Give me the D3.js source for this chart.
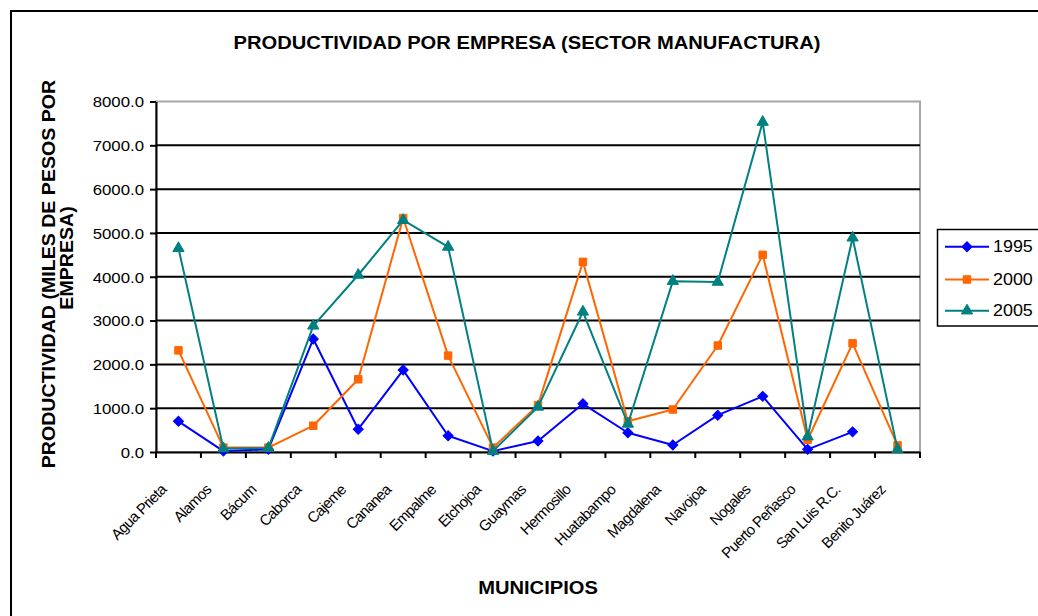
<!DOCTYPE html>
<html>
<head>
<meta charset="utf-8">
<script src="https://cdn.jsdelivr.net/npm/d3@7"></script>
<style>
  html, body { margin: 0; padding: 0; background: #fff; }
  svg { display: block; font-family: "Liberation Sans", Arial, sans-serif; }
</style>
</head>
<body>
<svg id="chart" width="1038" height="616"></svg>
<script>
const chartTitle = "PRODUCTIVIDAD POR EMPRESA (SECTOR MANUFACTURA)";
const xTitle = "MUNICIPIOS";
const yTitleLines = ["PRODUCTIVIDAD (MILES DE PESOS POR", "EMPRESA)"];

const categories = ["Agua Prieta", "Alamos", "Bácum", "Caborca", "Cajeme", "Cananea",
  "Empalme", "Etchojoa", "Guaymas", "Hermosillo", "Huatabampo", "Magdalena",
  "Navojoa", "Nogales", "Puerto Peñasco", "San Luis R.C.", "Benito Juárez"];

const seriesNames = ["1995", "2000", "2005"];
const values1995 = [700, 20, 60, 2580, 520, 1870, 370, 20, 250, 1100, 440, 160, 840, 1270, 60, 460, null];
const values2000 = [2320, 100, 100, 600, 1660, 5340, 2200, 100, 1070, 4340, 700, 970, 2430, 4500, 280, 2480, 150];
const values2005 = [4650, 80, 90, 2880, 4040, 5290, 4680, 20, 1030, 3200, 640, 3900, 3880, 7530, 350, 4890, 60];

const yTicks = [0, 1000, 2000, 3000, 4000, 5000, 6000, 7000, 8000];

const seriesColors = ["#0000FF", "#FF6600", "#008080"];
const seriesSymbols = [d3.symbolSquare, d3.symbolSquare, d3.symbolTriangle];
const seriesSymbolRotate = [45, 0, 0];
const seriesSymbolSizes = [50, 56, 55];

const series = [values1995, values2000, values2005].map((vals, i) => ({
  name: seriesNames[i], values: vals, color: seriesColors[i],
  symbol: seriesSymbols[i], size: seriesSymbolSizes[i], rot: seriesSymbolRotate[i]
}));

const svg = d3.select("#chart");
const FS = 1.12; // horizontal stretch of rendered fonts

// outer chart border
svg.append("rect").attr("x", 11).attr("y", 11).attr("width", 1040).attr("height", 620)
  .attr("fill", "none").attr("stroke", "#000").attr("stroke-width", 2);

const plot = { left: 156, right: 920, top: 101.5, bottom: 452 };

const x = d3.scaleBand().domain(categories).range([plot.left, plot.right]).padding(0);
const y = d3.scaleLinear().domain([0, 8000]).range([plot.bottom, plot.top]);

// plot area border (gray)
svg.append("rect").attr("x", plot.left).attr("y", plot.top)
  .attr("width", plot.right - plot.left).attr("height", plot.bottom - plot.top)
  .attr("fill", "none").attr("stroke", "#a6a6a6").attr("stroke-width", 2);

// gridlines
svg.append("g").selectAll("line").data(yTicks.filter(d => d > 0 && d < 8000)).join("line")
  .attr("x1", plot.left).attr("x2", plot.right)
  .attr("y1", d => y(d)).attr("y2", d => y(d))
  .attr("stroke", "#000").attr("stroke-width", 2);

// y axis
const yAxis = svg.append("g").attr("transform", `translate(${plot.left},0)`)
  .call(d3.axisLeft(y).tickValues(yTicks).tickFormat(d => d.toFixed(1)).tickSize(6).tickSizeOuter(0));
yAxis.select(".domain").attr("stroke", "#000").attr("stroke-width", 2);
yAxis.selectAll(".tick line").attr("stroke", "#000").attr("stroke-width", 2);
yAxis.selectAll(".tick text")
  .attr("x", -12 / FS).attr("dy", "0.36em")
  .attr("transform", `scale(${FS},1)`)
  .attr("font-size", 15).attr("fill", "#000")
  .attr("font-family", "'Liberation Sans', Arial, sans-serif");

// x axis
const xAxis = svg.append("g").attr("transform", `translate(0,${plot.bottom})`)
  .call(d3.axisBottom(x).tickSize(0).tickFormat(""));
xAxis.select(".domain").attr("stroke", "#000").attr("stroke-width", 2);
const boundaries = categories.map(c => x(c)).concat([x(categories[categories.length - 1]) + x.bandwidth()]);
xAxis.append("g").selectAll("line").data(boundaries).join("line")
  .attr("x1", d => d).attr("x2", d => d).attr("y1", 0).attr("y2", 6)
  .attr("stroke", "#000").attr("stroke-width", 2);

// x labels
svg.append("g").selectAll("text").data(categories).join("text")
  .attr("transform", d => `translate(${x(d) + x.bandwidth() / 2 - 15},${plot.bottom + 35}) rotate(-45)`)
  .attr("text-anchor", "end")
  .attr("dy", "0.35em")
  .attr("font-size", 15)
  .attr("letter-spacing", "-0.7px")
  .attr("fill", "#000")
  .text(d => d);

// lines & markers
const line = d3.line()
  .defined(d => d.v !== null)
  .x(d => x(d.c) + x.bandwidth() / 2)
  .y(d => y(d.v));

series.forEach(s => {
  const pts = categories.map((c, i) => ({ c, v: s.values[i] }));
  svg.append("path").datum(pts)
    .attr("fill", "none").attr("stroke", s.color).attr("stroke-width", 2)
    .attr("stroke-linejoin", "round")
    .attr("d", line);
  svg.append("g").selectAll("path").data(pts.filter(d => d.v !== null)).join("path")
    .attr("transform", d => `translate(${x(d.c) + x.bandwidth() / 2},${y(d.v)}) rotate(${s.rot})`)
    .attr("d", d3.symbol().type(s.symbol).size(s.size))
    .attr("fill", s.color).attr("stroke", s.color).attr("stroke-width", 1);
});

// title
svg.append("text")
  .attr("transform", `translate(527,49) scale(${FS},1)`)
  .attr("text-anchor", "middle").attr("font-size", 18).attr("font-weight", "bold")
  .text(chartTitle);

// x title
svg.append("text")
  .attr("transform", `translate(538,594) scale(1.06,1)`)
  .attr("text-anchor", "middle").attr("font-size", 19).attr("font-weight", "bold")
  .text(xTitle);

// y title (two lines)
const yTitlePos = [{ x: 55, y: 274 }, { x: 73, y: 258 }];
yTitleLines.forEach((t, i) => {
  svg.append("text")
    .attr("transform", `translate(${yTitlePos[i].x},${yTitlePos[i].y}) rotate(-90) scale(${FS},1)`)
    .attr("text-anchor", "middle").attr("font-size", 17.5).attr("font-weight", "bold")
    .text(t);
});

// legend
const legend = svg.append("g");
legend.append("rect").attr("x", 937.5).attr("y", 229.5).attr("width", 110).attr("height", 96.5)
  .attr("fill", "#fff").attr("stroke", "#000").attr("stroke-width", 1.5);
const legendY = [246.7, 279.5, 310.7];
series.forEach((s, i) => {
  const g = legend.append("g").attr("transform", `translate(0,${legendY[i]})`);
  g.append("line").attr("x1", 945).attr("x2", 989).attr("y1", 0).attr("y2", 0)
    .attr("stroke", s.color).attr("stroke-width", 2);
  g.append("path").attr("transform", `translate(967,0) rotate(${s.rot})`)
    .attr("d", d3.symbol().type(s.symbol).size(s.size))
    .attr("fill", s.color).attr("stroke", s.color).attr("stroke-width", 1);
  g.append("text").attr("transform", `translate(993,0) scale(${FS},1)`)
    .attr("dy", "0.36em").attr("font-size", 16).text(s.name);
});
</script>
</body>
</html>
